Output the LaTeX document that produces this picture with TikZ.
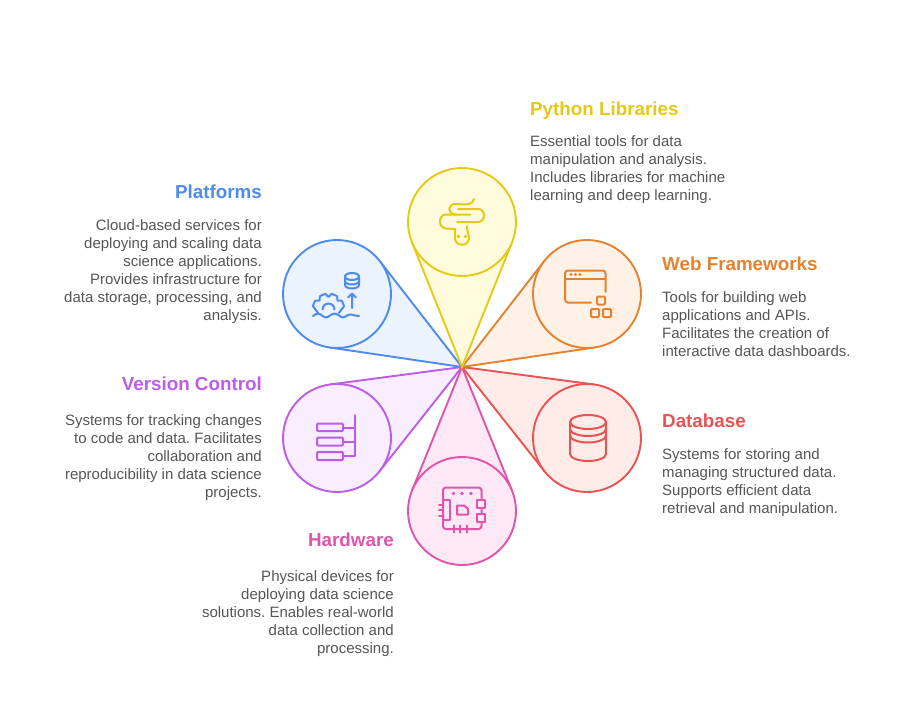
\documentclass[tikz,border=0pt]{standalone}
\usepackage{fontspec}
\setmainfont{Liberation Sans}
\usetikzlibrary{calc,backgrounds}

\definecolor{pythonline}{HTML}{E5C913}
\definecolor{pythonfill}{HTML}{FFFBDC}
\definecolor{webline}{HTML}{E5822F}
\definecolor{webfill}{HTML}{FFF1E5}
\definecolor{dbline}{HTML}{E85353}
\definecolor{dbfill}{HTML}{FFEBE8}
\definecolor{hwline}{HTML}{E055AA}
\definecolor{hwfill}{HTML}{FFE8F5}
\definecolor{vcline}{HTML}{BC5CE8}
\definecolor{vcfill}{HTML}{F8EEFF}
\definecolor{platline}{HTML}{4F8BEC}
\definecolor{platfill}{HTML}{EBF3FF}
\definecolor{bodygrey}{HTML}{555555}

\tikzset{
  title/.style={font=\fontsize{18.8}{22}\selectfont\bfseries, inner sep=0pt},
  bodyleft/.style={font=\frenchspacing\fontsize{15}{18}\selectfont, text=bodygrey, inner sep=0pt, align=left, anchor=north west},
  bodyright/.style={font=\frenchspacing\fontsize{15}{18}\selectfont, text=bodygrey, inner sep=0pt, align=right, anchor=north east},
  icon/.style={line width=2pt, line cap=round, line join=round},
}

\begin{document}
\begin{tikzpicture}[x=1pt, y=-1pt]
\useasboundingbox (0,0) rectangle (924,720);
\coordinate (hub) at (462,367);

\foreach \name/\x/\y/\col in {plat/337/294/plat, vc/337/438/vc, hw/462/511/hw, db/587/438/db, web/587/294/web, python/462/222/python} {
  \node[circle, draw=\col line, fill=\col fill, line width=1.9pt, minimum size=108pt, inner sep=0pt, outer sep=0pt] (\name) at (\x,\y) {};
  \coordinate (\name A) at (tangent cs:node=\name,point={(hub)},solution=1);
  \coordinate (\name B) at (tangent cs:node=\name,point={(hub)},solution=2);
  \begin{pgfonlayer}{background}
    \fill[\col fill] (hub) -- (\name A) -- (\name B) -- cycle;
    \draw[\col line, line width=1.9pt] (\name A) -- (hub) -- (\name B);
  \end{pgfonlayer}
}

% python
\draw[icon, pythonline] (474,199) .. controls (473,205) and (466,205) .. (456,204) .. controls (447,203) and (447,215) .. (456,214.5) -- (470,214.5);
\draw[icon, pythonline] (456,214.5) -- (446,214.5) .. controls (438,214.5) and (438,228) .. (446,228.5) -- (455,229) -- (455,238) .. controls (455,247) and (469,247) .. (469,238) .. controls (469,234) and (467,232) .. (467,226);
\draw[icon, pythonline] (458,209) -- (478,209) .. controls (486,209) and (486,222) .. (478,222) -- (457,222);
\fill[pythonline] (458.5,236.5) circle (1.8pt) (465.5,236.5) circle (1.8pt);

% web
\draw[icon, webline, rounded corners=3pt] (605.5,292) -- (605.5,270.5) -- (565,270.5) -- (565,302.5) -- (591,302.5);
\draw[icon, webline] (565,278.5) -- (605.5,278.5);
\fill[webline] (571,274.5) circle (1.7pt) (575.5,274.5) circle (1.7pt) (580,274.5) circle (1.7pt);
\draw[icon, webline, rounded corners=1pt] (597,296.5) rectangle (605,304.5);
\draw[icon, webline, rounded corners=1pt] (591,309) rectangle (599,317);
\draw[icon, webline, rounded corners=1pt] (603,309) rectangle (611,317);

% database
\draw[icon, dbline] (588,422) ellipse [x radius=18pt, y radius=7pt];
\draw[icon, dbline] (570,422) -- (570,454) arc [start angle=180, end angle=360, x radius=18pt, y radius=7pt] -- (606,422);
\draw[icon, dbline] (570,429) arc [start angle=180, end angle=360, x radius=18pt, y radius=7pt];
\draw[icon, dbline] (570,435.5) arc [start angle=180, end angle=360, x radius=18pt, y radius=7pt];

% hardware
\draw[icon, hwline, rounded corners=3pt] (443,487.5) rectangle (481.5,529);
\draw[icon, hwline] (443,500) -- (449.5,500) -- (449.5,520) -- (443,520);
\draw[icon, hwline] (439,504.5) -- (443,504.5) (439,510) -- (443,510) (439,516) -- (443,516);
\draw[icon, hwline, fill=hwfill] (477,500) rectangle (485,507.5);
\draw[icon, hwline, fill=hwfill] (477,514) rectangle (485,521.5);
\draw[icon, hwline] (454,525.5) -- (454,532.5) (460,525.5) -- (460,532.5) (466.5,525.5) -- (466.5,532.5);
\fill[hwline] (453.5,493.5) circle (1.9pt) (462,493.5) circle (1.9pt) (471,493.5) circle (1.9pt);
\draw[icon, hwline] (457,505.5) -- (464,505.5) -- (468,509) -- (468,514.5) -- (457,514.5) -- cycle;

% version control
\draw[icon, vcline, rounded corners=1pt] (317,423.5) rectangle (343,431);
\draw[icon, vcline, rounded corners=1pt] (317,437.5) rectangle (343,445.5);
\draw[icon, vcline, rounded corners=1pt] (317,452) rectangle (343,460);
\draw[icon, vcline] (355,415) -- (355,456) -- (343,456);
\draw[icon, vcline] (343,427.5) -- (355,427.5) (343,441.5) -- (355,441.5);

% platforms
\draw[icon, platline] (352,276.5) ellipse [x radius=7pt, y radius=3.5pt];
\draw[icon, platline] (345,276.5) -- (345,285) arc [start angle=180, end angle=360, x radius=7pt, y radius=3.5pt] -- (359,276.5);
\draw[icon, platline] (345,281) arc [start angle=180, end angle=360, x radius=7pt, y radius=3.5pt];
\draw[icon, platline] (352,308) -- (352,293.5) (348,297.5) -- (352,293.5) -- (356,297.5);
\draw[icon, platline] (313,316) .. controls (317,313) and (319,313) .. (322,315.5) .. controls (325,318) and (327,318) .. (330,315.5) .. controls (333,313) and (336,313) .. (339,315.5) .. controls (342,318) and (344,318) .. (347,315.5) .. controls (350,313) and (354,316) .. (359,316);
\begin{scope}[shift={(328.5,309.5)}]
\draw[icon, platline, rounded corners=0.6pt] (198:11pt) -- (180:13pt) -- (168:16pt) -- (146:16pt) -- (135:12.5pt) -- (123:16pt) -- (101:16pt) -- (90:12.5pt) -- (79:16pt) -- (57:16pt) -- (45:12.5pt) -- (34:16pt) -- (12:16pt) -- (0:13pt) -- (-18:11pt);
\draw[icon, platline] (-6,0) arc [start angle=180, end angle=0, radius=6pt];
\end{scope}

\node[title, text=pythonline, anchor=base west] (pythontitle) at (530,115) {Python Libraries};
\node[bodyleft] (pythonbody) at (530,135) {Essential tools for data\\manipulation and analysis.\\Includes libraries for machine\\learning and deep learning.};
\node[title, text=webline, anchor=base west] (webtitle) at (662,270.5) {Web Frameworks};
\node[bodyleft] (webbody) at (662,291) {Tools for building web\\applications and APIs.\\Facilitates the creation of\\interactive data dashboards.};
\node[title, text=dbline, anchor=base west] (dbtitle) at (662,427.5) {Database};
\node[bodyleft] (dbbody) at (662,448) {Systems for storing and\\managing structured data.\\Supports efficient data\\retrieval and manipulation.};
\node[title, text=platline, anchor=base east] (plattitle) at (262,198.5) {Platforms};
\node[bodyright] (platbody) at (262,219) {Cloud-based services for\\deploying and scaling data\\science applications.\\Provides infrastructure for\\data storage, processing, and\\analysis.};
\node[title, text=vcline, anchor=base east] (vctitle) at (262,390.5) {Version Control};
\node[bodyright] (vcbody) at (262,414) {Systems for tracking changes\\to code and data. Facilitates\\collaboration and\\reproducibility in data science\\projects.};
\node[title, text=hwline, anchor=base east] (hwtitle) at (394,546.5) {Hardware};
\node[bodyright] (hwbody) at (394,570) {Physical devices for\\deploying data science\\solutions. Enables real-world\\data collection and\\processing.};
\end{tikzpicture}
\end{document}
